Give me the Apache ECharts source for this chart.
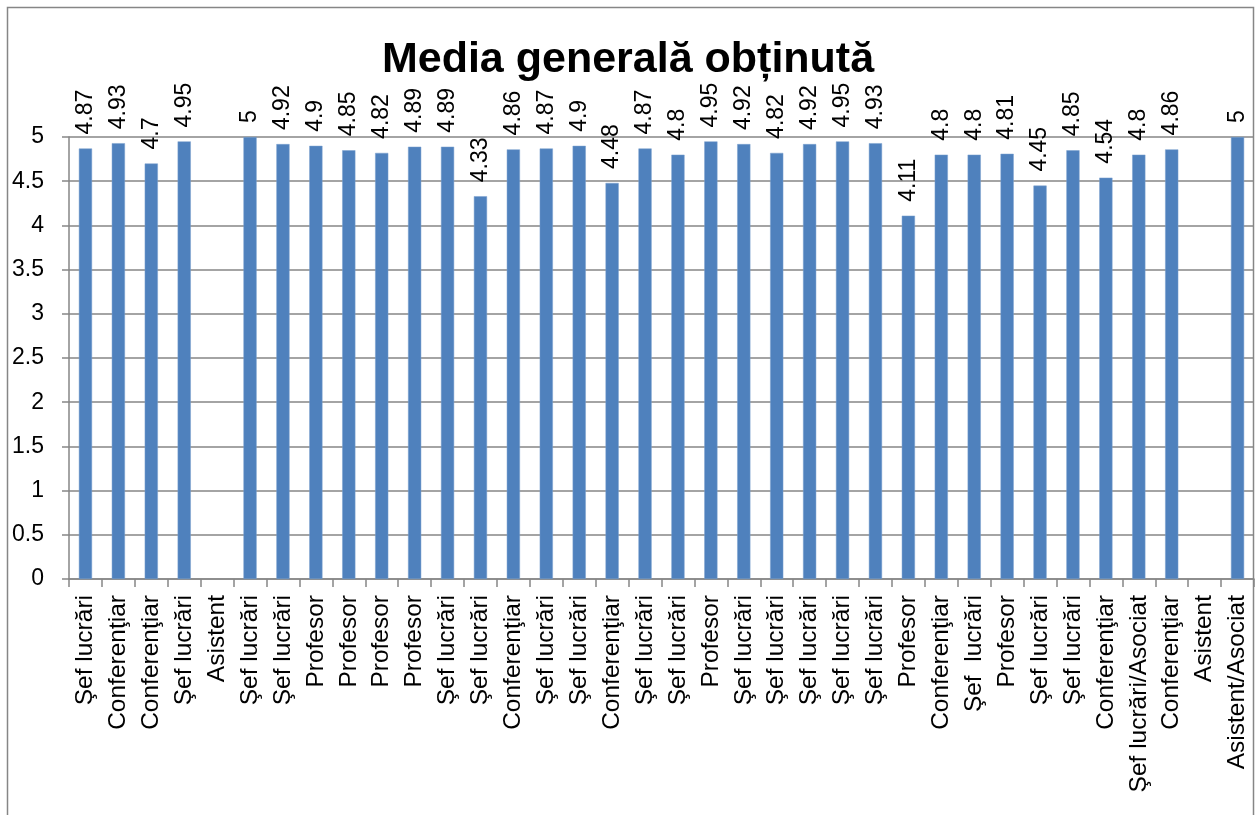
<!DOCTYPE html>
<html>
<head>
<meta charset="utf-8">
<script src="https://cdn.jsdelivr.net/npm/echarts@6/dist/echarts.min.js"></script>
<style>
html,body{margin:0;padding:0;background:#fff;}
#chart{width:1256px;height:815px;}
</style>
</head>
<body>
<div id="chart"></div>
<script>
var chartTitle = 'Media generală obținută';
var categories = [
  'Şef lucrări','Conferenţiar','Conferenţiar','Şef lucrări','Asistent','Şef lucrări','Şef lucrări',
  'Profesor','Profesor','Profesor','Profesor','Şef lucrări','Şef lucrări','Conferenţiar',
  'Şef lucrări','Şef lucrări','Conferenţiar','Şef lucrări','Şef lucrări','Profesor','Şef lucrări',
  'Şef lucrări','Şef lucrări','Şef lucrări','Şef lucrări','Profesor','Conferenţiar','Şef  lucrări',
  'Profesor','Şef lucrări','Şef lucrări','Conferenţiar','Şef lucrări/Asociat','Conferenţiar','Asistent','Asistent/Asociat'
];
var values = [
  4.87, 4.93, 4.7, 4.95, '-', 5, 4.92,
  4.9, 4.85, 4.82, 4.89, 4.89, 4.33, 4.86,
  4.87, 4.9, 4.48, 4.87, 4.8, 4.95, 4.92,
  4.82, 4.92, 4.95, 4.93, 4.11, 4.8, 4.8,
  4.81, 4.45, 4.85, 4.54, 4.8, 4.86, '-', 5
];
var yTicks = [0, 0.5, 1, 1.5, 2, 2.5, 3, 3.5, 4, 4.5, 5];

var chart = echarts.init(document.getElementById('chart'), null, {renderer: 'canvas'});
var FONT = 'Liberation Sans';
chart.setOption({
  backgroundColor: '#ffffff',
  animation: false,
  textStyle: {fontFamily: FONT},
  title: {
    text: chartTitle,
    left: 'center',
    top: 34,
    textStyle: {fontFamily: FONT, fontSize: 43, fontWeight: 'bold', color: '#000'}
  },
  graphic: [{
    type: 'rect',
    shape: {x: 7.5, y: 7.5, width: 1246, height: 830},
    style: {fill: 'none', stroke: '#868686', lineWidth: 1.5},
    silent: true, z: -1
  }],
  grid: {left: 69, right: 2, top: 137, bottom: 236, containLabel: false},
  xAxis: {
    type: 'category',
    data: categories,
    axisLine: {lineStyle: {color: '#868686', width: 1.5}},
    axisTick: {show: true, alignWithLabel: false, length: 8, lineStyle: {color: '#868686', width: 1.5}},
    axisLabel: {interval: 0, rotate: 90, fontSize: 24.5, color: '#000', margin: 16, fontFamily: FONT}
  },
  yAxis: {
    type: 'value',
    min: 0, max: 5, interval: 0.5,
    axisLine: {show: true, lineStyle: {color: '#868686', width: 1.5}},
    axisTick: {show: true, length: 7, lineStyle: {color: '#868686', width: 1.5}},
    splitLine: {show: true, lineStyle: {color: '#868686', width: 1.5}},
    axisLabel: {
      fontSize: 23, color: '#000', margin: 25, fontFamily: FONT,
      formatter: function (v) { return yTicks.indexOf(v) >= 0 ? String(v) : ''; }
    }
  },
  series: [{
    type: 'bar',
    data: values,
    barWidth: '40%',
    itemStyle: {color: '#4F81BD', borderColor: '#7BA0CE', borderWidth: 0.5},
    label: {
      show: true,
      position: 'top',
      rotate: 90,
      align: 'left',
      verticalAlign: 'middle',
      distance: 14,
      fontSize: 23,
      color: '#000',
      fontFamily: FONT,
      formatter: function (p) { return String(p.value); }
    }
  }]
});
</script>
</body>
</html>
